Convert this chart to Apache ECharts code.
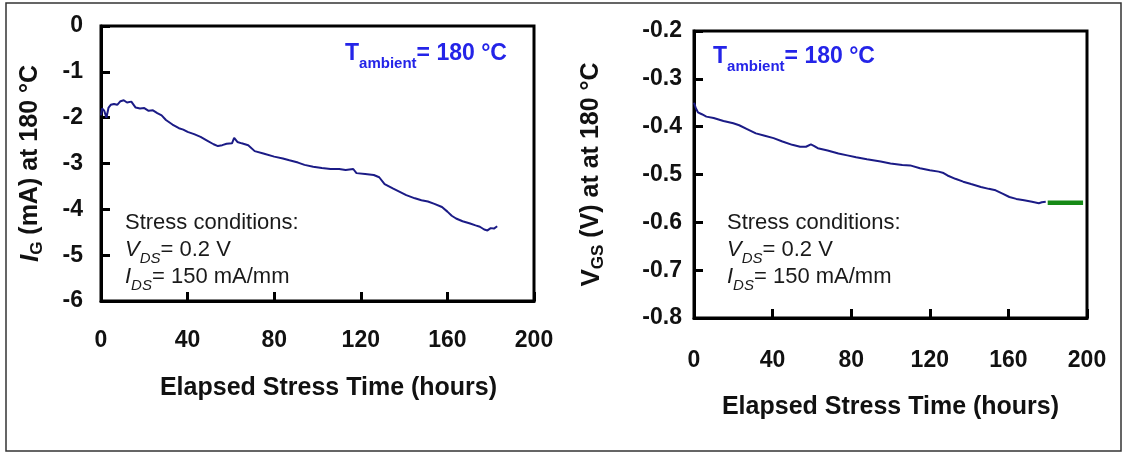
<!DOCTYPE html>
<html><head><meta charset="utf-8">
<script src="https://cdn.jsdelivr.net/npm/echarts@6/dist/echarts.min.js"></script>
<style>html,body{margin:0;padding:0;background:#fff}#c{width:1126px;height:454px}</style>
</head><body><div id="c"></div>
<script>
// ---------- data ----------
const xTickHours = [0, 40, 80, 120, 160, 200];
const igHours = [0,0.5,1.5,2.5,3.5,4.5,6,7.5,9,10.5,12,14,16,18,20,22,24,26,28,30,33,36,38,40,43,46,49,52,54,56,58,60.5,61.5,63,65,68,71,75,80,84,87,91,94,98,102,106,110,113,116.5,118,122,126,128.5,131,135,138,141,145,148,151,154,157.5,160,162,164,167,170.5,173,175,177,178.5,180,181.5,183];
const igValues = [-1.95,-1.80,-1.85,-2.00,-1.78,-1.72,-1.70,-1.72,-1.64,-1.62,-1.67,-1.65,-1.78,-1.80,-1.79,-1.85,-1.84,-1.90,-1.95,-2.05,-2.15,-2.23,-2.26,-2.31,-2.36,-2.42,-2.50,-2.58,-2.62,-2.60,-2.57,-2.56,-2.44,-2.53,-2.56,-2.60,-2.73,-2.78,-2.85,-2.89,-2.93,-2.98,-3.03,-3.07,-3.10,-3.12,-3.12,-3.14,-3.12,-3.21,-3.23,-3.25,-3.30,-3.45,-3.55,-3.62,-3.69,-3.76,-3.80,-3.83,-3.88,-3.95,-4.05,-4.14,-4.20,-4.26,-4.31,-4.35,-4.38,-4.44,-4.46,-4.41,-4.42,-4.37];
const vgsHours = [0,1,2,4,6.3,10,15,20,23,27,31.5,36,40.5,45,50,54,57,59.5,61,63,68,73.5,78,82.5,88,95,100,106,110,115,120,124.5,127,129,133,137,141,146,150,153.5,157,160.5,164,168,172,175.5,177,179];
const vgsValues = [-0.350,-0.362,-0.370,-0.374,-0.379,-0.382,-0.388,-0.393,-0.397,-0.405,-0.414,-0.419,-0.424,-0.431,-0.438,-0.442,-0.442,-0.437,-0.440,-0.445,-0.450,-0.456,-0.460,-0.464,-0.468,-0.473,-0.477,-0.480,-0.481,-0.487,-0.491,-0.494,-0.497,-0.502,-0.509,-0.515,-0.520,-0.526,-0.530,-0.533,-0.540,-0.547,-0.551,-0.554,-0.557,-0.560,-0.558,-0.557];
const holdHours = [180, 198];
const holdValues = [-0.559, -0.559];
const igTicks = { min: -6, max: 0, interval: 1 };
const vgsTicks = { min: -0.8, max: -0.2, interval: 0.1 };

// ---------- style ----------
const FF = '"Liberation Sans", Arial, Helvetica, sans-serif';
const INK = '#111';
const NAVY = '#1b1b86';
const BLUE = '#2424e8';
const GREEN = '#168a16';

const pair = (xs, ys) => xs.map((x, i) => [x, ys[i]]);

function xAxisCfg(gi, labelMargin, nameGap, namePad) {
  return {
    type: 'value', gridIndex: gi, min: xTickHours[0], max: xTickHours[xTickHours.length - 1],
    interval: xTickHours[1] - xTickHours[0],
    axisLine: { show: true, onZero: false, lineStyle: { color: '#000', width: 3 } },
    axisTick: { show: true, inside: true, length: 9, lineStyle: { color: '#000', width: 3 } },
    axisLabel: { margin: labelMargin, fontFamily: FF, fontWeight: 'bold', fontSize: 23, color: INK },
    splitLine: { show: false },
    name: 'Elapsed Stress Time (hours)', nameLocation: 'middle', nameGap: nameGap,
    nameTextStyle: { fontFamily: FF, fontWeight: 'bold', fontSize: 25, color: INK, padding: namePad }
  };
}
function yAxisCfg(gi, t, labelMargin, fmt, name, nameGap, rich) {
  return {
    type: 'value', gridIndex: gi, min: t.min, max: t.max, interval: t.interval,
    axisLine: { show: true, onZero: false, lineStyle: { color: '#000', width: 3 } },
    axisTick: { show: true, inside: true, length: 9, lineStyle: { color: '#000', width: 3 } },
    axisLabel: { margin: labelMargin, fontFamily: FF, fontWeight: 'bold', fontSize: 23, color: INK, formatter: fmt },
    splitLine: { show: false },
    name: name, nameLocation: 'middle', nameRotate: 90, nameGap: nameGap,
    nameTextStyle: { fontFamily: FF, fontWeight: 'bold', fontSize: 25, color: INK, rich: rich }
  };
}
const nameRich = (mainItalic) => ({
  m: { fontFamily: FF, fontWeight: 'bold', fontSize: 26, color: INK, fontStyle: mainItalic ? 'italic' : 'normal' },
  s: { fontFamily: FF, fontWeight: 'bold', fontSize: 17, color: INK, padding: [14, 0, 0, 0] },
  n: { fontFamily: FF, fontWeight: 'bold', fontSize: 25, color: INK }
});

const tambRich = {
  t: { fontFamily: FF, fontWeight: 'bold', fontSize: 23, fill: BLUE },
  s: { fontFamily: FF, fontWeight: 'bold', fontSize: 15, fill: BLUE, padding: [19, 0, 0, 0] }
};
const condRich = {
  n: { fontFamily: FF, fontSize: 22, fill: '#1a1a1a', lineHeight: 27 },
  i: { fontFamily: FF, fontSize: 22, fontStyle: 'italic', fill: '#1a1a1a', lineHeight: 27 },
  s: { fontFamily: FF, fontSize: 15, fontStyle: 'italic', fill: '#1a1a1a', lineHeight: 27, padding: [19, 0, 0, 0] }
};
const condText = '{n|Stress conditions:}\n{i|V}{s|DS}{n|= 0.2 V}\n{i|I}{s|DS}{n|= 150 mA/mm}';
const tambText = '{t|T}{s|ambient}{t|= 180 °C}';

const chart = echarts.init(document.getElementById('c'), null, { renderer: 'canvas' });
chart.setOption({
  animation: false,
  backgroundColor: '#fff',
  grid: [
    { left: 101, top: 26, width: 433, height: 275, show: true, borderColor: '#000', borderWidth: 3, containLabel: false },
    { left: 694, top: 31, width: 393, height: 287, show: true, borderColor: '#000', borderWidth: 3, containLabel: false }
  ],
  xAxis: [xAxisCfg(0, 28, 75, [0, 0, 0, 22]), xAxisCfg(1, 31, 77, [0, 0, 0, 0])],
  yAxis: [
    yAxisCfg(0, igTicks, 18, v => String(Math.round(v)), '{m|I}{s|G}{n| (mA) at 180 °C}', 55, nameRich(true)),
    yAxisCfg(1, vgsTicks, 12, v => v.toFixed(1), '{m|V}{s|GS}{n| (V) at at 180 °C}', 87, nameRich(false))
  ],
  series: [
    { type: 'line', xAxisIndex: 0, yAxisIndex: 0, data: pair(igHours, igValues), showSymbol: false, lineStyle: { color: NAVY, width: 2 } },
    { type: 'line', xAxisIndex: 1, yAxisIndex: 1, data: pair(vgsHours, vgsValues), showSymbol: false, lineStyle: { color: NAVY, width: 2 } },
    { type: 'line', xAxisIndex: 1, yAxisIndex: 1, data: pair(holdHours, holdValues), showSymbol: false, lineStyle: { color: GREEN, width: 4.5 } }
  ],
  graphic: [
    { type: 'rect', silent: true, z: -1, shape: { x: 6, y: 3, width: 1115, height: 448 }, style: { fill: 'none', stroke: '#333', lineWidth: 1.5 } },
    { type: 'text', x: 345, y: 37, style: { text: tambText, rich: tambRich, verticalAlign: 'top', align: 'left' } },
    { type: 'text', x: 713, y: 40, style: { text: tambText, rich: tambRich, verticalAlign: 'top', align: 'left' } },
    { type: 'text', x: 125, y: 209, style: { text: condText, rich: condRich, verticalAlign: 'top', align: 'left' } },
    { type: 'text', x: 727, y: 209, style: { text: condText, rich: condRich, verticalAlign: 'top', align: 'left' } }
  ]
});
</script>
</body></html>
